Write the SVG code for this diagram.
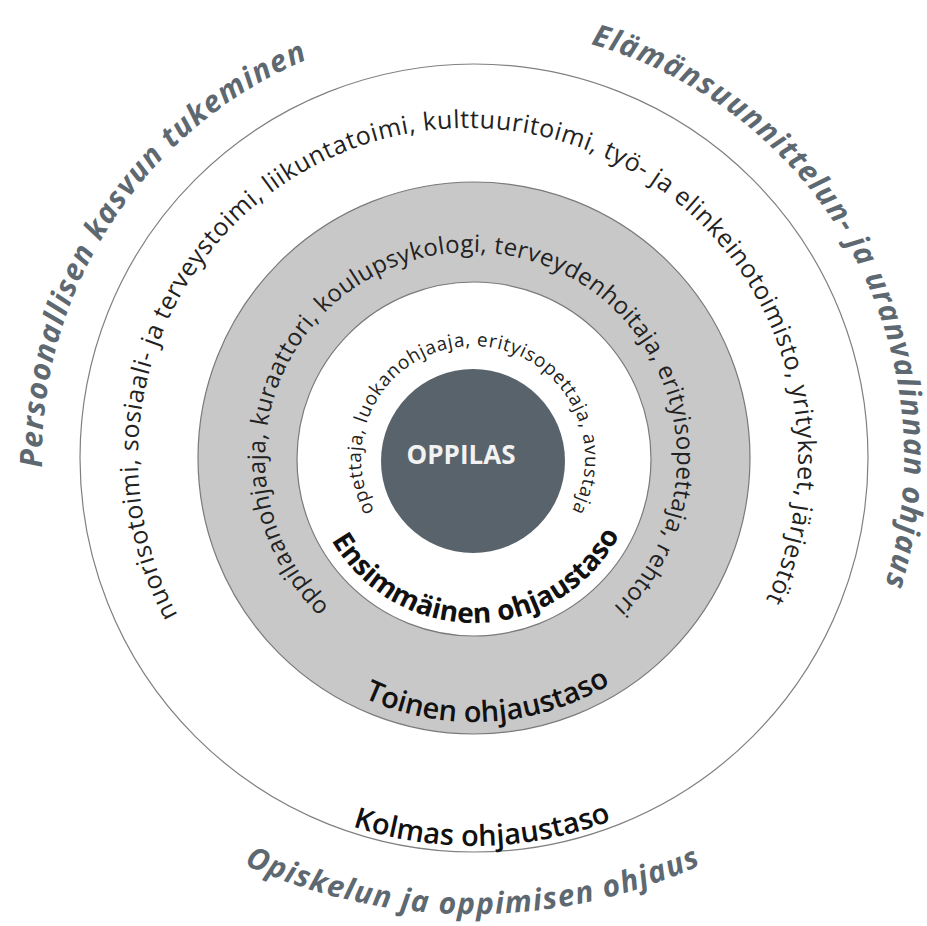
<svg xmlns="http://www.w3.org/2000/svg" width="927" height="926" viewBox="0 0 927 926">
<style>
.ring{font-family:"Open Sans","Liberation Sans",sans-serif;fill:#222;}
.head{font-family:"Open Sans","Liberation Sans",sans-serif;font-weight:bold;font-style:italic;fill:#5d6871;font-size:30px;letter-spacing:1.3px;}
.level{font-family:"Open Sans","Liberation Sans",sans-serif;fill:#111;}
</style>
<defs>
<path id="p1" d="M 473 570 A 112 112 0 1 1 473 346 A 112 112 0 1 1 473 570"/>
<path id="p2" d="M 471 664 A 206 206 0 1 1 471 252 A 206 206 0 1 1 471 664"/>
<path id="p3" d="M 468 788 A 330 330 0 1 1 468 128 A 330 330 0 1 1 468 788"/>
<path id="p4" d="M 474 890 A 432 432 0 1 1 474 26 A 432 432 0 1 1 474 890"/>
<path id="p5" d="M 474 888 A 430 430 0 1 1 474 28 A 430 430 0 1 1 474 888"/>
<path id="b1" d="M 310 459 A 164 164 0 0 0 638 459"/>
<path id="b2" d="M 210 458 A 264 264 0 0 0 738 458"/>
<path id="b3" d="M 86 458 A 388 388 0 0 0 862 458"/>
<path id="b4" d="M 73 743 A 553 553 0 0 0 873 743"/>
</defs>
<rect width="927" height="926" fill="#fff"/>
<g id="kolmas-taso">
<circle cx="474" cy="458" r="394" fill="#fff" stroke="#808080" stroke-width="1.2"/>
<text class="ring" font-size="25" letter-spacing="0.6"><textPath href="#p3" startOffset="49.6%" text-anchor="middle">nuorisotoimi, sosiaali- ja terveystoimi, liikuntatoimi, kulttuuritoimi, työ- ja elinkeinotoimisto, yritykset, järjestöt</textPath></text>
<text class="level" font-size="29" font-weight="600"><textPath href="#b3" startOffset="50.7%" text-anchor="middle">Kolmas ohjaustaso</textPath></text>
</g>
<g id="toinen-taso">
<circle cx="474" cy="458" r="276" fill="#c8c8c8" stroke="#7a7a7a" stroke-width="1.2"/>
<text class="ring" font-size="24" letter-spacing="0.4"><textPath href="#p2" startOffset="50%" text-anchor="middle">oppilaanohjaaja, kuraattori, koulupsykologi, terveydenhoitaja, erityisopettaja, rehtori</textPath></text>
<text class="level" font-size="29" font-weight="600"><textPath href="#b2" startOffset="51.8%" text-anchor="middle">Toinen ohjaustaso</textPath></text>
</g>
<g id="ensimmainen-taso">
<circle cx="474" cy="459" r="177" fill="#fff" stroke="#7a7a7a" stroke-width="1.2"/>
<text class="ring" font-size="19" letter-spacing="0.7"><textPath href="#p1" startOffset="50%" text-anchor="middle">opettaja, luokanohjaaja, erityisopettaja, avustaja</textPath></text>
<text class="level" font-size="28" font-weight="bold"><textPath href="#b1" startOffset="50.6%" text-anchor="middle">Ensimmäinen ohjaustaso</textPath></text>
</g>
<g id="oppilas">
<circle cx="473" cy="461" r="92" fill="#59636b"/>
<text x="461" y="464" font-family="'Open Sans','Liberation Sans',sans-serif" font-size="26" font-weight="bold" fill="#f2f2f2" text-anchor="middle">OPPILAS</text>
</g>
<g id="otsikot">
<text class="head"><textPath href="#p4" startOffset="34.2%" text-anchor="middle">Persoonallisen kasvun tukeminen</textPath></text>
<text class="head"><textPath href="#p5" startOffset="67.1%" text-anchor="middle">Elämänsuunnittelun- ja uranvalinnan ohjaus</textPath></text>
<text class="head"><textPath href="#b4" startOffset="50%" text-anchor="middle">Opiskelun ja oppimisen ohjaus</textPath></text>
</g>
<g id="connectors"/>
</svg>
